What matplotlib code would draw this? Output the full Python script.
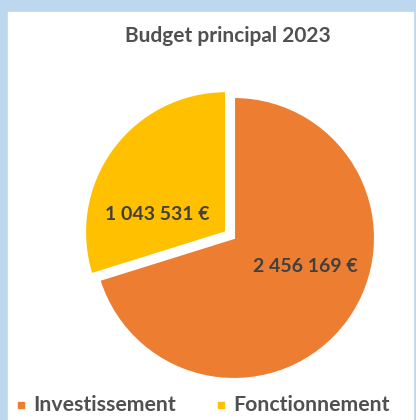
import matplotlib
matplotlib.use('Agg')
import matplotlib.pyplot as plt
from matplotlib.patches import Rectangle

plt.rcParams['font.family'] = ['Lato', 'DejaVu Sans']

# data
categories = ['Investissement', 'Fonctionnement']
values = [2456169, 1043531]
value_labels = ['2 456 169 €', '1 043 531 €']
colors = ['#ED7D31', '#FFC000']
title = 'Budget principal 2023'

W, H = 416, 420
fig = plt.figure(figsize=(W / 100, H / 100), dpi=100)
fig.patch.set_facecolor('#BDD7EE')

# white chart area inside the blue frame
bg = fig.add_axes([0, 0, 1, 1])
bg.set_xlim(0, W)
bg.set_ylim(H, 0)
bg.axis('off')
bg.add_patch(Rectangle((8, 12), 405, 420, color='white', zorder=0))

# pie, center about (234, 238) px, radius 141 px
r_px = 141
half = 1.1 * r_px
cx, cy = 234, 238
ax = fig.add_axes([(cx - half) / W, (H - cy - half) / H, 2 * half / W, 2 * half / H])
wedges, texts = ax.pie(values, colors=colors, startangle=90, counterclock=False,
                       explode=[0, 0.07],
                       wedgeprops=dict(edgecolor='white', linewidth=1.5))
ax.set_xlim(-1.1, 1.1)
ax.set_ylim(-1.1, 1.1)
ax.set_aspect('equal')
ax.axis('off')

# overlay for text, pixel coordinates of the picture
fg = fig.add_axes([0, 0, 1, 1])
fg.set_xlim(0, W)
fg.set_ylim(H, 0)
fg.axis('off')

fg.text(305, 267, value_labels[0], ha='center', va='center', fontsize=14,
        fontweight='bold', color='#404040')
fg.text(157, 215, value_labels[1], ha='center', va='center', fontsize=14,
        fontweight='bold', color='#404040')

fg.text(228, 36, title, ha='center', va='center', fontsize=15,
        fontweight='bold', color='#505050')

# legend
leg_x = [18, 218]
for x, name, c in zip(leg_x, categories, colors):
    fg.add_patch(Rectangle((x, 402), 6, 6, color=c))
    fg.text(x + 15, 405, name, ha='left', va='center', fontsize=15.3,
            fontweight='bold', color='#505050')

fig.savefig('out.png', dpi=100, facecolor=fig.get_facecolor())
